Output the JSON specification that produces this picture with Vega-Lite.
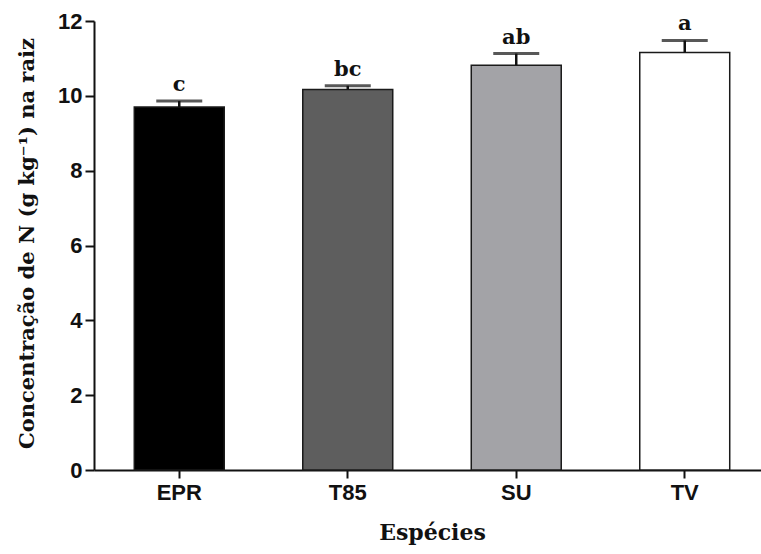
{
  "$schema": "https://vega.github.io/schema/vega-lite/v6.json",
  "autosize": {"type": "none"},
  "padding": {"left": 94, "top": 21, "right": 0, "bottom": 84},
  "width": 676,
  "height": 449,
  "background": "white",
  "config": {"view": {"stroke": null}},
  "data": {
    "values": [
      {"especie": "EPR", "media": 9.70, "sup": 9.86, "letra": "c"},
      {"especie": "T85", "media": 10.17, "sup": 10.27, "letra": "bc"},
      {"especie": "SU", "media": 10.82, "sup": 11.13, "letra": "ab"},
      {"especie": "TV", "media": 11.16, "sup": 11.48, "letra": "a"}
    ]
  },
  "encoding": {
    "x": {
      "field": "especie",
      "type": "nominal",
      "sort": ["EPR", "T85", "SU", "TV"],
      "scale": {"paddingInner": 0.466, "paddingOuter": 0.239},
      "axis": {
        "title": "Espécies",
        "titleFont": "DejaVu Serif",
        "titleFontWeight": "bold",
        "titleFontSize": 22,
        "titleColor": "#111",
        "titlePadding": 19,
        "labelAngle": 0,
        "labelFont": "Liberation Sans",
        "labelFontWeight": "bold",
        "labelFontSize": 22,
        "labelColor": "#111",
        "labelPadding": 4,
        "domainColor": "#111",
        "domainWidth": 2,
        "tickColor": "#111",
        "tickWidth": 2,
        "tickSize": 8
      }
    }
  },
  "layer": [
    {
      "mark": {"type": "bar", "stroke": "#1a1a1a", "strokeWidth": 1.5},
      "encoding": {
        "y": {
          "field": "media",
          "type": "quantitative",
          "scale": {"domain": [0, 12], "nice": false},
          "axis": {
            "title": "Concentração de N (g kg⁻¹) na raiz",
            "titleFont": "DejaVu Serif",
            "titleFontWeight": "bold",
            "titleFontSize": 21,
            "titleColor": "#111",
            "titleX": -67,
            "titleY": 222,
            "titleAngle": 270,
            "titleBaseline": "middle",
            "titleAlign": "center",
            "values": [0, 1, 2, 3, 4, 5, 6, 7, 8, 9, 10, 11, 12],
            "labelExpr": "datum.value % 2 === 0 ? datum.label : ''",
            "labelFont": "Liberation Sans",
            "labelFontWeight": "bold",
            "labelFontSize": 22,
            "labelColor": "#111",
            "labelPadding": 3,
            "grid": false,
            "domainColor": "#111",
            "domainWidth": 2,
            "tickColor": "#111",
            "tickWidth": 2,
            "tickSize": {"condition": {"test": "datum.value % 2 === 1", "value": 5}, "value": 9}
          }
        },
        "fill": {
          "field": "especie",
          "type": "nominal",
          "scale": {"domain": ["EPR", "T85", "SU", "TV"], "range": ["#000000", "#5e5e5e", "#a3a3a7", "#ffffff"]},
          "legend": null
        }
      }
    },
    {
      "mark": {"type": "rule", "color": "#111", "strokeWidth": 2.5},
      "encoding": {
        "y": {"field": "media", "type": "quantitative"},
        "y2": {"field": "sup"}
      }
    },
    {
      "mark": {"type": "tick", "color": "#111", "size": 46, "thickness": 3},
      "encoding": {
        "y": {"field": "sup", "type": "quantitative"}
      }
    },
    {
      "mark": {"type": "text", "font": "DejaVu Serif", "fontWeight": "bold", "fontSize": 21, "color": "#111", "baseline": "alphabetic", "dy": -10},
      "encoding": {
        "y": {"field": "sup", "type": "quantitative"},
        "text": {"field": "letra"}
      }
    }
  ]
}
